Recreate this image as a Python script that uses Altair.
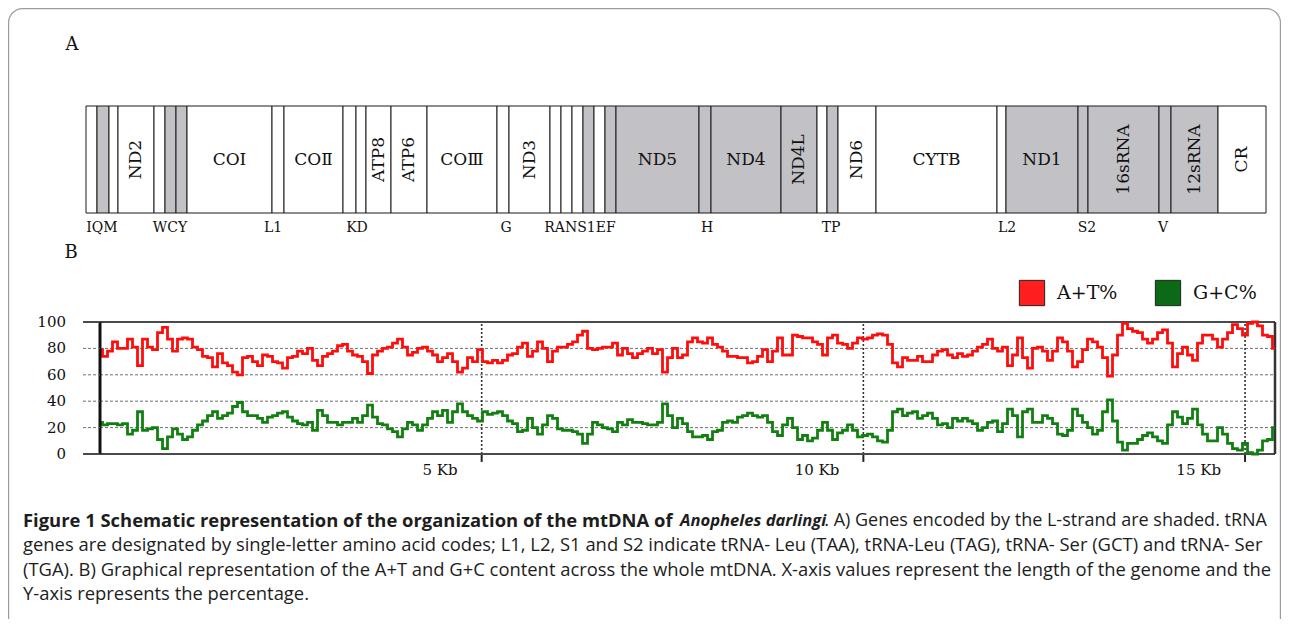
import altair as alt
import pandas as pd
import numpy as np

# ---------------- Panel A: gene map (schematic units) ----------------
GENE_NAMES = ["I", "Q", "M", "ND2", "W", "C", "Y", "COI", "L1", "COⅡ", "K", "D",
              "ATP8", "ATP6", "COⅢ", "G", "ND3", "R", "A", "N", "S1", "E", "F",
              "ND5", "H", "ND4", "ND4L", "T", "P", "ND6", "CYTB", "L2", "ND1",
              "S2", "16sRNA", "V", "12sRNA", "CR"]
GENE_BOUNDS = [0, 11, 23, 32, 68, 79, 90, 101, 186, 198, 257, 270, 280, 305, 341,
               411, 423, 464, 475, 486, 497, 508, 519, 530, 613, 625, 695, 731,
               741, 752, 790, 911, 920, 992, 1002, 1073, 1085, 1132, 1180]
L_STRAND = ["Q", "C", "Y", "S1", "F", "ND5", "H", "ND4", "ND4L", "P", "ND1",
            "S2", "16sRNA", "V", "12sRNA"]
HORIZONTAL_LABELS = ["COI", "COⅡ", "COⅢ", "ND5", "ND4", "CYTB", "ND1"]
VERTICAL_LABELS = ["ND2", "ATP8", "ATP6", "ND3", "ND4L", "ND6", "16sRNA",
                   "12sRNA", "CR"]
TRNA_LABELS = ["IQM", "WCY", "L1", "KD", "G", "RANS1EF", "H", "TP", "L2", "S2", "V"]
TRNA_LABEL_POS = [16, 84, 187, 271, 420, 494, 621, 745, 921, 1001, 1077]

# ---------------- Panel B: A+T / G+C sliding window (%) ----------------
SERIES = ["A+T%", "G+C%"]
STEP_BP = 65.5
AT = [79, 74, 78, 85, 80, 80, 87, 81, 67, 87, 81, 79, 92, 96, 87, 78, 87, 88, 87, 81,
      79, 74, 73, 66, 76, 69, 67, 62, 60, 73, 74, 70, 67, 75, 74, 70, 69, 65, 73, 74,
      78, 76, 80, 71, 67, 74, 76,
      78, 82, 83, 78, 75, 74, 70, 61, 75, 78, 80, 81, 84, 87, 81, 75, 77, 80, 81, 78,
      75, 70, 73, 76, 70, 62, 65, 73, 70, 79, 70, 69, 71, 69, 71, 75, 76, 81, 84, 74,
      78, 85, 80, 70, 78, 81, 81,
      83, 85, 90, 93, 80, 79, 80, 81, 81, 84, 75, 80, 76, 73, 76, 78, 80, 76, 79, 62,
      73, 80, 73, 75, 85, 88, 85, 84, 88, 83, 81, 78, 74, 74, 73, 73, 69, 70, 74, 79,
      70, 78, 88, 75, 75, 90, 89,
      88, 88, 85, 83, 75, 88, 90, 84, 83, 80, 84, 88, 87, 88, 90, 91, 90, 83, 69, 66,
      73, 71, 71, 74, 70, 70, 75, 78, 79, 75, 73, 76, 74, 75, 78, 81, 83, 87, 80, 78,
      81, 67, 75, 88, 73, 65, 80,
      81, 78, 71, 78, 88, 85, 78, 66, 70, 79, 87, 85, 81, 73, 59, 75, 90, 99, 95, 93,
      92, 87, 84, 87, 92, 94, 84, 66, 76, 81, 75, 71, 84, 90, 90, 87, 81, 87, 92, 98,
      95, 90, 99, 100, 97, 90, 89, 80]
GC = [24, 22, 23, 23, 22, 23, 15, 18, 32, 18, 19, 20, 11, 4, 13, 19, 15, 11, 13, 18,
      22, 25, 29, 32, 27, 29, 31, 36, 39, 32, 29, 29, 27, 24, 28, 29, 31, 32, 28, 25,
      23, 22, 24, 18, 33, 29, 24,
      24, 22, 24, 24, 27, 24, 29, 37, 28, 23, 22, 19, 17, 13, 19, 24, 22, 18, 22, 27,
      32, 29, 33, 24, 32, 38, 32, 29, 27, 25, 32, 30, 31, 32, 29, 25, 23, 17, 18, 27,
      20, 15, 22, 29, 27, 19, 18,
      18, 17, 15, 8, 15, 24, 22, 20, 19, 17, 24, 22, 26, 24, 24, 23, 22, 22, 24, 38,
      29, 20, 27, 23, 17, 13, 13, 14, 11, 17, 18, 24, 25, 24, 28, 29, 31, 29, 28, 29,
      24, 17, 14, 22, 27, 20, 11,
      14, 10, 12, 18, 24, 18, 11, 16, 18, 22, 18, 13, 14, 15, 13, 10, 9, 18, 32, 34,
      29, 31, 32, 27, 29, 31, 27, 22, 23, 20, 27, 25, 27, 25, 23, 18, 20, 24, 25, 17,
      23, 34, 29, 13, 32, 34, 24,
      24, 29, 27, 23, 15, 14, 18, 34, 29, 24, 20, 15, 18, 32, 41, 25, 9, 3, 8, 8,
      11, 14, 16, 13, 10, 8, 22, 32, 28, 23, 27, 34, 22, 15, 10, 10, 20, 15, 8, 4,
      3, 8, 1, 0, 3, 10, 11, 20]
Y_TICKS = [0, 20, 40, 60, 80, 100]
Y_GRID = [20, 40, 60, 80]
Y_FRAME = [0, 100]
X_TICKS_BP = [5000, 10000, 15000]

# ---------------- Caption ----------------
CAP_BOLD = "Figure 1 Schematic representation of the organization of the mtDNA of"
CAP_ITALIC = "Anopheles darlingi"
CAP_REST1 = ". A) Genes encoded by the L-strand are shaded. tRNA"
CAP_LINES = [
    "genes are designated by single-letter amino acid codes; L1, L2, S1 and S2 indicate tRNA- Leu (TAA), tRNA-Leu (TAG), tRNA- Ser (GCT) and tRNA- Ser",
    "(TGA). B) Graphical representation of the A+T and G+C content across the whole mtDNA. X-axis values represent the length of the genome and the",
    "Y-axis represents the percentage.",
]

assert len(AT) == len(GC)
assert len(GENE_BOUNDS) == len(GENE_NAMES) + 1

W, H = 1273, 611
SERIF = "DejaVu Serif"
SANS = "Open Sans"
INK = "#111111"
CAP_INK = "#1d1d1d"

# ---------- gene map ----------
genes = pd.DataFrame({
    "gene": GENE_NAMES,
    "start": GENE_BOUNDS[:-1],
    "end": GENE_BOUNDS[1:],
})
genes["mid"] = (genes["start"] + genes["end"]) / 2
genes["strand"] = np.where(genes["gene"].isin(L_STRAND), "L", "H")

gx = alt.Scale(domain=[0, GENE_BOUNDS[-1]], range=[78, 1258])
gy = alt.Scale(domain=[0, 1], range=[205, 98])

gene_rects = alt.Chart(genes).mark_rect(stroke="#1a1a1a", strokeWidth=1).encode(
    x=alt.X("start:Q", scale=gx, axis=None),
    x2="end:Q",
    y=alt.Y(datum=0, scale=gy, axis=None),
    y2=alt.Y2(datum=1),
    fill=alt.Fill("strand:N", scale=alt.Scale(domain=["H", "L"], range=["#ffffff", "#c2c2c6"]), legend=None),
)
gene_h = alt.Chart(genes).transform_filter(
    alt.FieldOneOfPredicate(field="gene", oneOf=HORIZONTAL_LABELS)
).mark_text(font=SERIF, fontSize=17, color=INK).encode(
    x=alt.X("mid:Q", scale=gx, axis=None),
    y=alt.Y(datum=0.5, scale=gy, axis=None),
    text="gene:N",
)
gene_v = alt.Chart(genes).transform_filter(
    alt.FieldOneOfPredicate(field="gene", oneOf=VERTICAL_LABELS)
).mark_text(font=SERIF, fontSize=17, color=INK, angle=270).encode(
    x=alt.X("mid:Q", scale=gx, axis=None),
    y=alt.Y(datum=0.5, scale=gy, axis=None),
    text="gene:N",
)
trna = pd.DataFrame({"lab": TRNA_LABELS, "pos": TRNA_LABEL_POS})
trna_text = alt.Chart(trna).mark_text(font=SERIF, fontSize=14, color=INK).encode(
    x=alt.X("pos:Q", scale=gx, axis=None),
    y=alt.Y(datum=-0.14, scale=gy, axis=None),
    text="lab:N",
)
panel_a = alt.layer(gene_rects, gene_h, gene_v, trna_text)

# ---------- panel letters ----------
letters = pd.DataFrame({"letter": ["A", "B"]})
letters_text = alt.Chart(letters).mark_text(font=SERIF, fontSize=18, color=INK, align="center").encode(
    x=alt.X("letter:N", scale=alt.Scale(type="point", domain=["A", "B"], range=[64, 63], padding=0), axis=None),
    y=alt.Y("letter:N", scale=alt.Scale(type="point", domain=["A", "B"], range=[37, 245], padding=0), axis=None),
    text="letter:N",
)

# ---------- panel B ----------
pos = np.arange(len(AT)) * STEP_BP
XMAX = float(pos[-1])
content = pd.DataFrame({
    "pos": np.concatenate([pos, pos]),
    "pct": AT + GC,
    "series": [SERIES[0]] * len(AT) + [SERIES[1]] * len(GC),
})
bx = alt.Scale(domain=[0, XMAX], range=[92, 1267])
by = alt.Scale(domain=[0, 100], range=[446, 314])
color_scale = alt.Scale(domain=SERIES, range=["#ff0d0d", "#118011"])

grid_h = pd.DataFrame({"y": Y_GRID, "x0": 0.0, "x1": XMAX})
grid_h_rule = alt.Chart(grid_h).mark_rule(color="#6f6f6f", strokeDash=[3, 2], strokeWidth=1).encode(
    x=alt.X("x0:Q", scale=bx, axis=None), x2="x1:Q",
    y=alt.Y("y:Q", scale=by, axis=None),
)
grid_v = pd.DataFrame({"x": X_TICKS_BP})
grid_v_rule = alt.Chart(grid_v).mark_rule(color="#333333", strokeDash=[2, 2], strokeWidth=1.6).encode(
    x=alt.X("x:Q", scale=bx, axis=None),
    y=alt.Y(datum=0, scale=by, axis=None), y2=alt.Y2(datum=100),
)
x_ticks = alt.Chart(grid_v).mark_rule(color="#222222", strokeWidth=2).encode(
    x=alt.X("x:Q", scale=bx, axis=None),
    y=alt.Y(datum=0, scale=by, axis=None), y2=alt.Y2(datum=-6),
)
x_labels = alt.Chart(grid_v).transform_calculate(
    lab="(datum.x / 1000) + ' Kb'"
).mark_text(font=SERIF, fontSize=15, color=INK, align="right", dx=-24).encode(
    x=alt.X("x:Q", scale=bx, axis=None),
    y=alt.Y(datum=-12, scale=by, axis=None),
    text="lab:N",
)
frame_h = pd.DataFrame({"y": Y_FRAME, "x0": 0.0, "x1": XMAX})
frame_h_rule = alt.Chart(frame_h).mark_rule(color="#4a4a4a", strokeWidth=2).encode(
    x=alt.X("x0:Q", scale=bx, axis=None), x2="x1:Q",
    y=alt.Y("y:Q", scale=by, axis=None),
)
frame_v = pd.DataFrame({"x": [XMAX]})
frame_v_rule = alt.Chart(frame_v).mark_rule(color="#333333", strokeWidth=2.5).encode(
    x=alt.X("x:Q", scale=bx, axis=None),
    y=alt.Y(datum=0, scale=by, axis=None), y2=alt.Y2(datum=100),
)
y_domain = alt.Chart(pd.DataFrame({"x": [0.0]})).mark_rule(color="#111111", strokeWidth=3).encode(
    x=alt.X("x:Q", scale=bx, axis=None),
    y=alt.Y(datum=0, scale=by, axis=None), y2=alt.Y2(datum=100),
)
lines = alt.Chart(content).mark_line(strokeWidth=2.8, interpolate="step").encode(
    x=alt.X("pos:Q", scale=bx, axis=None),
    y=alt.Y("pct:Q", scale=by, axis=None),
    color=alt.Color("series:N", scale=color_scale, legend=None),
    detail="series:N",
)
panel_b = alt.layer(grid_h_rule, grid_v_rule, x_ticks, x_labels, frame_h_rule,
                    frame_v_rule, lines, y_domain)

# y-axis ticks and labels: own horizontal scale for the tick stubs left of the axis
tx = alt.Scale(domain=[0, 1], range=[75, 92])
yt = pd.DataFrame({"v": Y_TICKS})
yt["frame"] = yt["v"].isin(Y_FRAME)
y_tick_solid = alt.Chart(yt).transform_filter("datum.frame").mark_rule(color="#4a4a4a", strokeWidth=2).encode(
    x=alt.X(datum=0, scale=tx, axis=None), x2=alt.X2(datum=1),
    y=alt.Y("v:Q", scale=by, axis=None),
)
y_tick_dot = alt.Chart(yt).transform_filter("!datum.frame").mark_rule(color="#6f6f6f", strokeDash=[3, 2], strokeWidth=1).encode(
    x=alt.X(datum=0, scale=tx, axis=None), x2=alt.X2(datum=1),
    y=alt.Y("v:Q", scale=by, axis=None),
)
y_lab = alt.Chart(yt).mark_text(font=SERIF, fontSize=15, color=INK, align="right").encode(
    x=alt.X(datum=-1, scale=tx, axis=None),
    y=alt.Y("v:Q", scale=by, axis=None),
    text="v:Q",
)
y_axis_layer = alt.layer(y_tick_solid, y_tick_dot, y_lab)

# ---------- legend ----------
leg = pd.DataFrame({"series": SERIES})
lx = alt.Scale(type="point", domain=SERIES, range=[1024, 1160], padding=0)
leg_sq = alt.Chart(leg).mark_square(size=640, opacity=1, stroke="#222222", strokeWidth=1).encode(
    x=alt.X("series:N", scale=lx, axis=None),
    y=alt.value(285),
    color=alt.Color("series:N", scale=alt.Scale(domain=SERIES, range=["#ff1f1f", "#0c6a16"]), legend=None),
)
leg_txt = alt.Chart(leg).mark_text(font=SERIF, fontSize=19, color=INK, align="left", dx=25).encode(
    x=alt.X("series:N", scale=lx, axis=None),
    y=alt.value(285),
    text="series:N",
)
legend = alt.layer(leg_sq, leg_txt)

# ---------- caption ----------
cap_scale = alt.Scale(domain=[1, 4], range=[513, 586])
cap1 = pd.DataFrame({"t": [CAP_BOLD], "row": [1]})
cap1i = pd.DataFrame({"t": [CAP_ITALIC], "row": [1]})
cap1r = pd.DataFrame({"t": [CAP_REST1], "row": [1]})
capn = pd.DataFrame({"t": CAP_LINES, "row": [2, 3, 4]})
c_bold = alt.Chart(cap1).mark_text(font=SANS, fontSize=18.4, fontWeight="bold", align="left", color=CAP_INK).encode(
    x=alt.value(15), y=alt.Y("row:Q", scale=cap_scale, axis=None), text="t:N")
c_ital = alt.Chart(cap1i).mark_text(font=SANS, fontSize=16.6, fontWeight="bold", fontStyle="italic", align="left", color=CAP_INK).encode(
    x=alt.value(672), y=alt.Y("row:Q", scale=cap_scale, axis=None), text="t:N")
c_rest = alt.Chart(cap1r).mark_text(font=SANS, fontSize=18, align="right", color=CAP_INK).encode(
    x=alt.value(1259), y=alt.Y("row:Q", scale=cap_scale, axis=None), text="t:N")
c_lines = alt.Chart(capn).mark_text(font=SANS, fontSize=18.4, align="left", color=CAP_INK).encode(
    x=alt.value(15), y=alt.Y("row:Q", scale=cap_scale, axis=None), text="t:N")
caption = alt.layer(c_bold, c_ital, c_rest, c_lines)

# ---------- outer rounded frame ----------
frame = alt.Chart(pd.DataFrame({"k": [0]})).mark_rect(
    filled=False, stroke="#9c9c9c", strokeWidth=1.2, cornerRadius=14
).encode(x=alt.value(0.6), x2=alt.value(W - 0.6), y=alt.value(0.6), y2=alt.value(H + 40))

chart = alt.layer(frame, panel_a, letters_text, panel_b, y_axis_layer, legend, caption).resolve_scale(
    x="independent", y="independent", color="independent", fill="independent"
).properties(
    width=W, height=H, padding=0, autosize=alt.AutoSizeParams(type="none")
).configure_view(stroke=None)

chart.save("out.html", embed_options={"renderer": "svg", "actions": False})
